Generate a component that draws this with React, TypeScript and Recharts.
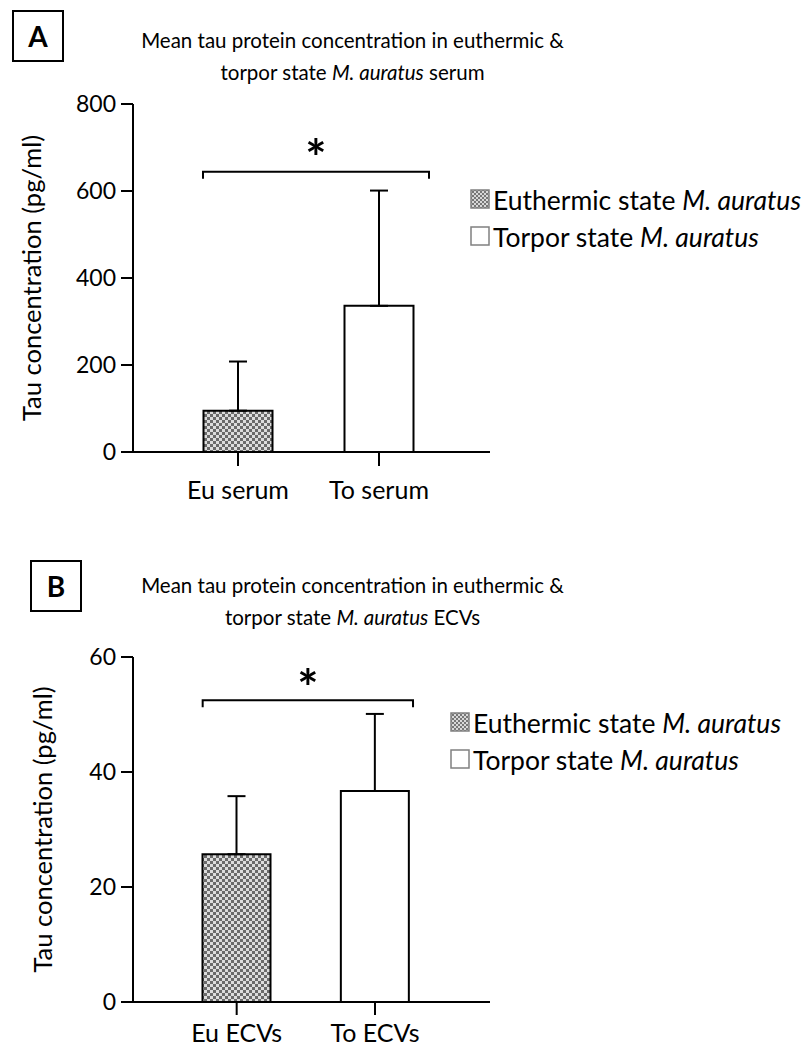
import React from 'react';
import { BarChart, Bar, XAxis, YAxis, ErrorBar, Cell, Legend, ReferenceLine } from 'recharts';

// ---------- data ----------
const categoriesA = ['Eu serum', 'To serum'];
const meansA = [95, 336];
const sdA = [113, 265];
const ticksA = [0, 200, 400, 600, 800];
const bracketA = 644;

const categoriesB = ['Eu ECVs', 'To ECVs'];
const meansB = [25.7, 36.7];
const sdB = [10.1, 13.4];
const ticksB = [0, 20, 40, 60];
const bracketB = 52.5;

const legendNames = ['Euthermic state', 'Torpor state'];
const species = 'M. auratus';
const titleA = ['Mean tau protein concentration in euthermic &', 'torpor state', 'serum'];
const titleB = ['Mean tau protein concentration in euthermic &', 'torpor state', 'ECVs'];
const yLabel = 'Tau concentration (pg/ml)';

const FONT = 'Lato, "Open Sans", sans-serif';

const fills = ['url(#checkBar)', '#ffffff'];
const legendFills = ['url(#checkLeg)', '#ffffff'];

const buildRows = (cats: string[], means: number[], sds: number[]) =>
  cats.map((name, i) => ({ name, mean: means[i], err: [0, sds[i]] }));

const dataA = buildRows(categoriesA, meansA, sdA);
const dataB = buildRows(categoriesB, meansB, sdB);

const makeBracket = (leftOff: number, rightOff: number, starGap: number) => (props: any) => {
  const { x1, y1, x2 } = props;
  const l = x1 - leftOff;
  const r = x2 + rightOff;
  const mid = (l + r) / 2;
  return (
    <g>
      <path d={`M${l},${y1 + 7}V${y1}H${r}V${y1 + 7}`} fill="none" stroke="#000" strokeWidth={2} />
      <text x={mid} y={y1 - starGap} textAnchor="middle" fontFamily={FONT} fontWeight="bold" fontSize={50} fill="#000">
        *
      </text>
    </g>
  );
};

const LegendBox = () => (
  <div style={{ fontFamily: FONT, fontSize: 26.5, color: '#000' }}>
    {legendNames.map((n, i) => (
      <div key={n} style={{ display: 'flex', alignItems: 'center', height: 37 }}>
        <svg width={21} height={21} style={{ marginRight: 2, flex: 'none' }}>
          <rect x={1} y={1} width={18} height={18} fill={legendFills[i]} stroke="#808080" strokeWidth={1.5} />
        </svg>
        <span style={{ whiteSpace: 'nowrap' }}>
          {n} <i>{species}</i>
        </span>
      </div>
    ))}
  </div>
);

const yLabelContent = (xOff: number) => (props: any) => {
  const vb = props.viewBox || {};
  const cx = (vb.x || 0) + xOff;
  const cy = (vb.y || 0) + (vb.height || 0) / 2;
  return (
    <text x={cx} y={cy} transform={`rotate(-90, ${cx}, ${cy})`} textAnchor="middle" dominantBaseline="central" fontFamily={FONT} fontSize={25.5} fill="#000">
      {yLabel}
    </text>
  );
};

const axisStroke = { stroke: '#000', strokeWidth: 2 };
const yTickStyle = { fill: '#000', fontSize: 23, fontFamily: FONT };
const xTickStyle = { fill: '#000', fontSize: 25, fontFamily: FONT };

type PanelProps = {
  top: number;
  letter: string;
  letterBox: { left: number; top: number };
  title: string[];
  titleTop: number;
  data: any[];
  ticks: number[];
  domainMax: number;
  bracketY: number;
  marginTop: number;
  xAxisHeight: number;
  marginBottom: number;
  padL: number;
  padR: number;
  barSize: number;
  xTickSize: number;
  xTickMargin: number;
  br: [number, number, number];
  legendPos: { left: number; top: number };
  yLabelX: number;
};

const Panel = (p: PanelProps) => (
  <div style={{ position: 'absolute', left: 0, top: p.top, width: 808, height: 525 }}>
    <div
      style={{
        position: 'absolute',
        left: p.letterBox.left,
        top: p.letterBox.top,
        width: 48,
        height: 48,
        border: '2px solid #000',
        display: 'flex',
        alignItems: 'center',
        justifyContent: 'center',
        fontFamily: FONT,
        fontWeight: 'bold',
        fontSize: 28,
        color: '#000',
      }}
    >
      {p.letter}
    </div>
    <div
      style={{
        position: 'absolute',
        left: 100,
        width: 505,
        top: p.titleTop,
        textAlign: 'center',
        fontFamily: FONT,
        fontSize: 20.5,
        lineHeight: '32px',
        color: '#000',
      }}
    >
      <div style={{ whiteSpace: 'nowrap' }}>{p.title[0]}</div>
      <div style={{ whiteSpace: 'nowrap' }}>
        {p.title[1]} <i>{species}</i> {p.title[2]}
      </div>
    </div>
    <BarChart
      width={808}
      height={525}
      data={p.data}
      margin={{ top: p.marginTop, right: 318, bottom: p.marginBottom, left: 0 }}
      style={{ position: 'absolute', left: 0, top: 0 }}
    >
      <XAxis
        dataKey="name"
        type="category"
        height={p.xAxisHeight}
        padding={{ left: p.padL, right: p.padR }}
        axisLine={axisStroke}
        tickLine={axisStroke}
        tickSize={p.xTickSize}
        tickMargin={p.xTickMargin}
        tick={xTickStyle}
        interval={0}
      />
      <YAxis
        width={133}
        domain={[0, p.domainMax]}
        ticks={p.ticks}
        interval={0}
        axisLine={axisStroke}
        tickLine={axisStroke}
        tickSize={12}
        tickMargin={5}
        tick={yTickStyle}
        allowDecimals={false}
        label={{ content: yLabelContent(p.yLabelX) }}
      />
      <Bar dataKey="mean" barSize={p.barSize} stroke="#000" strokeWidth={2} isAnimationActive={false}>
        {p.data.map((d, i) => (
          <Cell key={d.name} fill={fills[i]} />
        ))}
        <ErrorBar dataKey="err" direction="y" width={9} stroke="#000" strokeWidth={2} isAnimationActive={false} />
      </Bar>
      <ReferenceLine
        segment={[
          { x: p.data[0].name, y: p.bracketY },
          { x: p.data[1].name, y: p.bracketY },
        ]}
        ifOverflow="visible"
        shape={makeBracket(p.br[0], p.br[1], p.br[2])}
      />
      <Legend
        layout="vertical"
        align="center"
        verticalAlign="middle"
        content={() => <LegendBox />}
        wrapperStyle={{ position: 'absolute', left: p.legendPos.left, top: p.legendPos.top, width: 360, bottom: 'auto', right: 'auto' }}
      />
    </BarChart>
  </div>
);

export default function App() {
  return (
    <div style={{ position: 'absolute', left: 0, top: 0, width: 808, height: 1050, background: '#fff', overflow: 'hidden' }}>
      <svg width={0} height={0} style={{ position: 'absolute' }}>
        <defs>
          <pattern id="checkBar" patternUnits="userSpaceOnUse" width={6} height={6}>
            <rect x={0} y={0} width={6} height={6} fill="#dcdcdc" />
            <rect x={0} y={0} width={3} height={3} fill="#6a6a6a" />
            <rect x={3} y={3} width={3} height={3} fill="#6a6a6a" />
          </pattern>
          <pattern id="checkLeg" patternUnits="userSpaceOnUse" width={4} height={4}>
            <rect x={0} y={0} width={4} height={4} fill="#d8d8d8" />
            <rect x={0} y={0} width={2} height={2} fill="#777" />
            <rect x={2} y={2} width={2} height={2} fill="#777" />
          </pattern>
        </defs>
      </svg>
      <Panel
        top={0}
        letter="A"
        letterBox={{ left: 12, top: 10 }}
        title={titleA}
        titleTop={24}
        data={dataA}
        ticks={ticksA}
        domainMax={800}
        bracketY={bracketA}
        marginTop={104}
        xAxisHeight={50}
        marginBottom={23}
        padL={34.5}
        padR={40.5}
        barSize={69}
        xTickSize={14}
        xTickMargin={15}
        br={[35, 50, -4]}
        legendPos={{ left: 470, top: 181 }}
        yLabelX={31}
      />
      <Panel
        top={525}
        letter="B"
        letterBox={{ left: 30, top: 35 }}
        title={titleB}
        titleTop={44}
        data={dataB}
        ticks={ticksB}
        domainMax={60}
        bracketY={bracketB}
        marginTop={132}
        xAxisHeight={40}
        marginBottom={8}
        padL={34.5}
        padR={45.8}
        barSize={68}
        xTickSize={13}
        xTickMargin={9}
        br={[34, 38, -6]}
        legendPos={{ left: 450, top: 179 }}
        yLabelX={42}
      />
    </div>
  );
}
